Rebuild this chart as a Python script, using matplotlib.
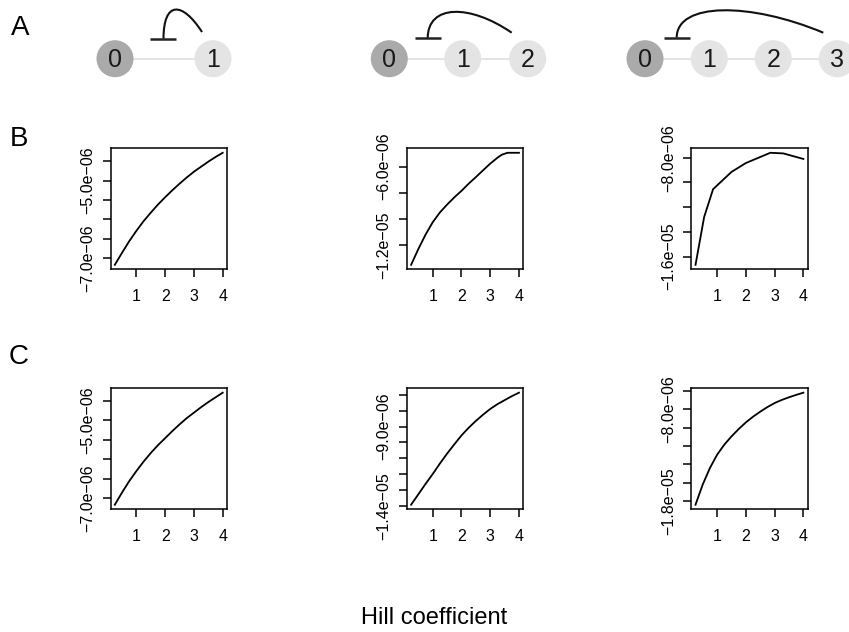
import matplotlib
matplotlib.use("Agg")
import matplotlib.pyplot as plt
from matplotlib.patches import Circle, PathPatch
from matplotlib.path import Path

plt.rcParams['font.family'] = ['Liberation Sans', 'DejaVu Sans']

# ---------------- data (values in units of 1e-6) ----------------
hill_B1 = [0.25, 0.5, 0.75, 1.0, 1.25, 1.5, 1.75, 2.0, 2.25, 2.5, 2.75, 3.0, 3.25, 3.5, 3.75, 4.0]
val_B1 = [-7.18, -6.87, -6.57, -6.30, -6.05, -5.83, -5.62, -5.43, -5.25, -5.08, -4.92,
          -4.77, -4.64, -4.51, -4.39, -4.28]

hill_B2 = [0.25, 0.5, 0.75, 1.0, 1.25, 1.5, 1.75, 2.0, 2.25, 2.5, 2.75, 3.0, 3.25, 3.4, 3.6, 3.8, 4.0]
val_B2 = [-13.5, -12.3, -11.2, -10.25, -9.5, -8.9, -8.35, -7.85, -7.3, -6.8, -6.28,
          -5.77, -5.32, -5.09, -4.94, -4.94, -4.94]

hill_B3 = [0.25, 0.55, 0.86, 1.5, 2.0, 2.85, 3.3, 4.0]
val_B3 = [-16.67, -12.8, -10.55, -9.15, -8.43, -7.6, -7.65, -8.1]

hill_C1 = [0.25, 0.5, 0.75, 1.0, 1.25, 1.5, 1.75, 2.0, 2.25, 2.5, 2.75, 3.0, 3.25, 3.5, 3.75, 4.0]
val_C1 = [-7.16, -6.85, -6.56, -6.30, -6.06, -5.84, -5.64, -5.46, -5.28, -5.11, -4.95,
          -4.81, -4.67, -4.54, -4.42, -4.30]

hill_C2 = [0.25, 0.5, 0.75, 1.0, 1.25, 1.5, 1.75, 2.0, 2.25, 2.5, 2.75, 3.0, 3.25, 3.5, 3.75, 4.0]
val_C2 = [-13.9, -13.25, -12.6, -11.98, -11.32, -10.7, -10.12, -9.56, -9.08, -8.65, -8.26,
          -7.9, -7.6, -7.35, -7.1, -6.88]

hill_C3 = [0.25, 0.5, 0.75, 1.0, 1.25, 1.5, 1.75, 2.0, 2.25, 2.5, 2.75, 3.0, 3.25, 3.5, 3.75, 4.0]
val_C3 = [-18.4, -16.2, -14.4, -12.95, -11.85, -10.95, -10.15, -9.42, -8.8, -8.25, -7.75,
          -7.31, -6.97, -6.68, -6.42, -6.18]

# y ticks (units 1e-6) and which are labelled
yticks_B1 = [-7.0, -6.5, -6.0, -5.5, -5.0, -4.5]
ylabels_B1 = ["−7.0e−06", "", "", "", "−5.0e−06", ""]
yticks_B2 = [-12.0, -10.0, -8.0, -6.0]
ylabels_B2 = ["−1.2e−05", "", "", "−6.0e−06"]
yticks_B3 = [-16.0, -14.0, -12.0, -10.0, -8.0]
ylabels_B3 = ["−1.6e−05", "", "", "", "−8.0e−06"]
yticks_C1 = [-7.0, -6.5, -6.0, -5.5, -5.0, -4.5]
ylabels_C1 = ["−7.0e−06", "", "", "", "−5.0e−06", ""]
yticks_C2 = [-14.0, -13.0, -12.0, -11.0, -10.0, -9.0, -8.0, -7.0]
ylabels_C2 = ["−1.4e−05", "", "", "", "", "−9.0e−06", "", ""]
yticks_C3 = [-18.0, -16.0, -14.0, -12.0, -10.0, -8.0, -6.0]
ylabels_C3 = ["−1.8e−05", "", "", "", "", "−8.0e−06", ""]

xticks = [1, 2, 3, 4]
xticklabels = ["1", "2", "3", "4"]

# network diagrams (panel A): node labels per diagram
networks = [["0", "1"], ["0", "1", "2"], ["0", "1", "2", "3"]]
xlabel_text = "Hill coefficient"

# ---------------- figure ----------------
W, H = 849, 632
fig = plt.figure(figsize=(W / 100, H / 100), dpi=100)

def add_px_axes(left, top, w, h):
    return fig.add_axes([left / W, 1 - (top + h) / H, w / W, h / H])

col_left = [110.5, 406.8, 691.2]
row_top = [148.3, 388.2]
AW, AH = 116.5, 121.0

panels = [
    (0, 0, hill_B1, val_B1, yticks_B1, ylabels_B1),
    (0, 1, hill_B2, val_B2, yticks_B2, ylabels_B2),
    (0, 2, hill_B3, val_B3, yticks_B3, ylabels_B3),
    (1, 0, hill_C1, val_C1, yticks_C1, ylabels_C1),
    (1, 1, hill_C2, val_C2, yticks_C2, ylabels_C2),
    (1, 2, hill_C3, val_C3, yticks_C3, ylabels_C3),
]

for r, c, xs, ys, yt, yl in panels:
    ax = add_px_axes(col_left[c], row_top[r], AW, AH)
    ax.plot(xs, ys, color='black', lw=1.3, solid_joinstyle='round')
    ax.margins(x=0.04, y=0.04)
    ax.set_xticks(xticks)
    ax.set_xticklabels(xticklabels, fontsize=11.5)
    ax.set_yticks(yt)
    ax.set_yticklabels(yl, fontsize=11.5, rotation=90, va='center')
    ax.tick_params(axis='both', direction='out', length=6, width=1.1, color='black')
    ax.tick_params(axis='x', pad=8)
    ax.tick_params(axis='y', pad=5)
    for s in ax.spines.values():
        s.set_linewidth(1.1)
        s.set_color('black')

# ---------------- panel A overlay in pixel coordinates ----------------
ov = fig.add_axes([0, 0, 1, 1])
ov.set_xlim(0, W)
ov.set_ylim(H, 0)
ov.axis('off')
ov.patch.set_alpha(0)

node_x = [[115, 213], [389.3, 462.7, 527.7], [645, 709.3, 773.3, 837.3]]
node_y = 58.7
radius = 18.5
arcs = [  # (stem_x, bar_y, ctrl2_x, ctrl_top, end_x, end_y)
    (163.5, 38.8, 182, 1.0, 202, 32),
    (427.7, 38.3, 470, 4.0, 511.7, 32.7),
    (676.7, 37.7, 750, 2.0, 823.3, 32.7),
]

for nx, labels, (sx, by, c2x, ctop, ex, ey) in zip(node_x, networks, arcs):
    ov.plot([nx[0], nx[-1]], [node_y, node_y], color='#e2e2e2', lw=1.3, zorder=1)
    for i, (x, lab) in enumerate(zip(nx, labels)):
        fc = '#aaaaaa' if i == 0 else '#e4e4e4'
        ov.add_patch(Circle((x, node_y), radius, facecolor=fc, edgecolor='none', zorder=2))
        ov.text(x, node_y + 1, lab, ha='center', va='center', fontsize=18,
                color='#1a1a1a', zorder=3)
    verts = [(sx, by), (sx, ctop), (c2x, ctop), (ex, ey)]
    path = Path(verts, [Path.MOVETO, Path.CURVE4, Path.CURVE4, Path.CURVE4])
    ov.add_patch(PathPatch(path, facecolor='none', edgecolor='#111111', lw=1.5, zorder=3))
    ov.plot([sx - 13, sx + 13], [by, by], color='#222222', lw=1.8, zorder=3,
            solid_capstyle='butt')

ov.text(20, 28, "A", fontsize=20, ha='center', va='center')
ov.text(19, 139, "B", fontsize=20, ha='center', va='center')
ov.text(19, 357, "C", fontsize=20, ha='center', va='center')
ov.text(434, 618, xlabel_text, fontsize=17, ha='center', va='center')

fig.savefig("out.png", dpi=100)
